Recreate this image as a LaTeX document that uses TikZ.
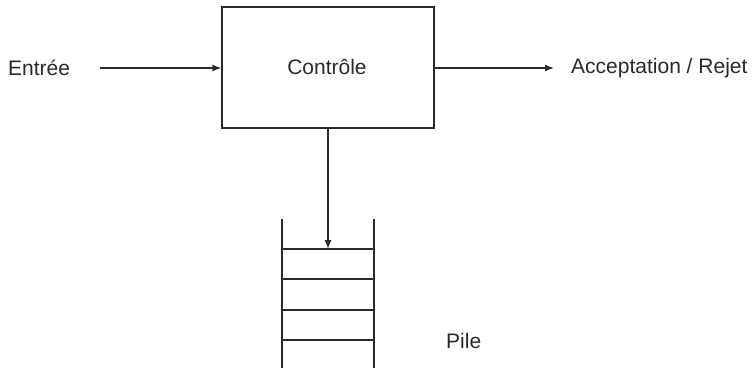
\documentclass[tikz,border=0pt]{standalone}
\usepackage{fontspec}
\setmainfont{Liberation Sans}
\usetikzlibrary{arrows.meta}
\definecolor{ink}{HTML}{2A2A2A}
\begin{document}
\begin{tikzpicture}[x=1pt,y=-1pt,
  line/.style={draw=ink,line width=1.3pt},
  arrow/.style={line,-{Latex[length=9pt,width=7pt]}},
  label/.style={text=ink,font=\fontsize{21}{25}\selectfont,inner sep=0pt}]
  \useasboundingbox (0,0) rectangle (756,369);
  % control unit
  \node[line,minimum width=212pt,minimum height=121pt,inner sep=0pt] (ctrl) at (328,67.5) {};
  \node[label] (ctrltext) at (327,67) {Contrôle};
  % input and output
  \node[label,anchor=west] (in) at (8,68) {Entrée};
  \coordinate (instart) at (100,68);
  \draw[arrow] (instart) -- (ctrl.west |- instart);
  \node[label,anchor=west] (out) at (571,68) {Acceptation / Rejet};
  \coordinate (outend) at (554,68);
  \draw[arrow] (ctrl.east |- outend) -- (outend);
  % stack
  \coordinate (stl) at (282,219);
  \coordinate (sbl) at (282,368);
  \coordinate (str) at (374,219);
  \coordinate (sbr) at (374,368);
  \draw[line] (stl) -- (sbl);
  \draw[line] (str) -- (sbr);
  \foreach \y/\n in {249/a,279/b,310/c,340/d}{
    \coordinate (l\n) at (282,\y);
    \coordinate (r\n) at (374,\y);
    \draw[line] (l\n) -- (r\n);
  }
  \coordinate (push) at (328,249);
  \draw[arrow] (ctrl.south -| push) -- (push);
  \node[label,anchor=west] (pile) at (446,341) {Pile};
\end{tikzpicture}
\end{document}
